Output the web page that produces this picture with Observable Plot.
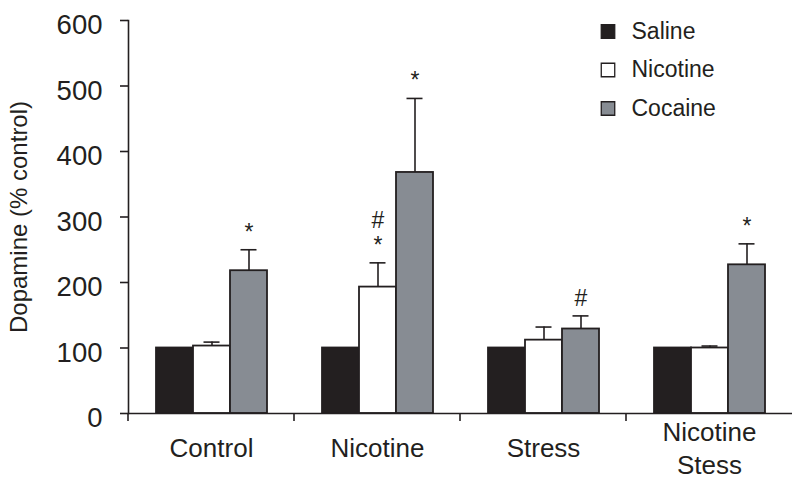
<!DOCTYPE html>
<html><head><meta charset="utf-8">
<script src="https://cdn.jsdelivr.net/npm/d3@7"></script>
<script src="https://cdn.jsdelivr.net/npm/@observablehq/plot@0.6"></script>
<style>
html,body{margin:0;padding:0;background:#fff;}
#chart svg{display:block;}
</style></head><body><div id="chart"></div>
<script>
const groups = ["Control", "Nicotine", "Stress", "Nicotine\nStess"];
const series = ["Saline", "Nicotine", "Cocaine"];
const salineMean = [100, 100, 100, 100];
const nicotineMean = [103, 193, 112, 100];
const nicotineUpper = [109, 230, 132, 103];
const cocaineMean = [218, 368, 129, 227];
const cocaineUpper = [250, 481, 149, 259];
const nicotineMarks = ["", "#\n*", "", ""];
const cocaineMarks = ["*", "*", "#", "*"];
const yTicks = [0, 100, 200, 300, 400, 500, 600];
const seriesColors = ["#231f20", "#ffffff", "#878c93"];
const ink = "#231f20";

const rows = [];
groups.forEach((g, i) => {
  rows.push({group: g, series: series[0], value: salineMean[i], upper: null, mark: ""});
  rows.push({group: g, series: series[1], value: nicotineMean[i], upper: nicotineUpper[i], mark: nicotineMarks[i]});
  rows.push({group: g, series: series[2], value: cocaineMean[i], upper: cocaineUpper[i], mark: cocaineMarks[i]});
});
const errRows = rows.filter(d => d.upper != null);
const markRows = rows.filter(d => d.mark);

const boundaryTicks = (index, scales) => {
  const x0 = Math.min(...scales.x.range());
  const y0 = scales.y(0);
  const g = d3.create("svg:g");
  g.append("line").attr("x1", x0).attr("x2", x0).attr("y1", y0).attr("y2", y0 + 8)
    .attr("stroke", ink).attr("stroke-width", 1.6);
  return g.node();
};

const legendMarks = series.flatMap((s, i) => [
  Plot.dot([s], {x: null, y: null, fx: () => groups[3], frameAnchor: "top-left", dx: -18.5, dy: 11 + 38.5 * i,
    symbol: "square", r: 7.6, fill: d => d, stroke: ink, strokeWidth: 1.3}),
  Plot.text([s], {x: null, y: null, fx: () => groups[3], frameAnchor: "top-left", dx: 5, dy: 11 + 38.5 * i,
    text: d => d, textAnchor: "start", lineAnchor: "middle", fontSize: 23, fill: ink})
]);

const plot = Plot.plot({
  width: 800,
  height: 486,
  marginTop: 20,
  marginBottom: 73,
  marginLeft: 128,
  marginRight: 8,
  style: {fontFamily: "'Liberation Sans', Arial, Helvetica, sans-serif", color: ink, background: "#fff"},
  fx: {domain: groups, padding: 0},
  x: {domain: series, paddingInner: 0, paddingOuter: 0.72, axis: null},
  y: {domain: [0, 600]},
  color: {domain: series, range: seriesColors},
  marks: [
    Plot.barY(rows, {fx: "group", x: "series", y: "value", fill: "series", stroke: ink, strokeWidth: 1.8}),
    Plot.ruleX(errRows, {fx: "group", x: "series", y1: "value", y2: "upper", stroke: ink, strokeWidth: 1.6}),
    Plot.tickY(errRows, {fx: "group", x: "series", y: "upper", inset: 10.5, stroke: ink, strokeWidth: 1.6}),
    Plot.text(markRows, {fx: "group", x: "series", y: "upper", text: "mark", lineAnchor: "bottom", dy: -10,
      fontSize: 23, lineHeight: 1.1, fill: ink}),
    Plot.ruleY([0], {stroke: ink, strokeWidth: 1.6}),
    Plot.frame({anchor: "left", facetAnchor: "left", stroke: ink, strokeWidth: 1.6}),
    boundaryTicks,
    Plot.axisY({ticks: yTicks, tickSize: 8, tickFormat: () => "", label: null, stroke: ink, strokeWidth: 1.6}),
    Plot.axisY({ticks: yTicks, tickSize: 0, tickPadding: 26, dy: 5, fontSize: 27.5, label: null, fill: ink}),
    Plot.axisY({ticks: [], tickSize: 0, label: "Dopamine (% control)", labelAnchor: "center", labelArrow: "none",
      labelOffset: 119, fontSize: 24}),
    Plot.axisFx({anchor: "bottom", tickSize: 0, tickPadding: 33, lineAnchor: "middle", fontSize: 26,
      lineHeight: 1.27, label: null, fill: ink}),
    ...legendMarks
  ]
});
document.getElementById("chart").append(plot);
</script>
</body></html>
